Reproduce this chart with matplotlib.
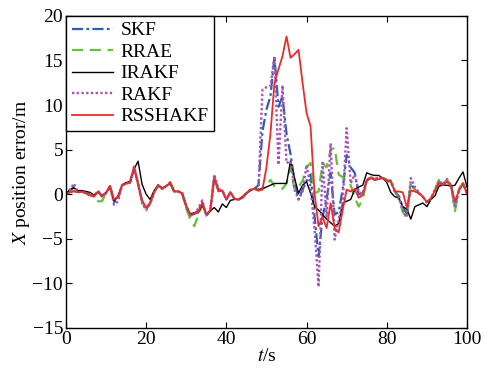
import numpy as np
import matplotlib
matplotlib.use("Agg")
import matplotlib.pyplot as plt

plt.rcParams["font.family"] = ["Liberation Serif", "DejaVu Serif"]
plt.rcParams["mathtext.fontset"] = "stix"

# ----------------------------
# Data (1 s sampling)
# ----------------------------
t = np.arange(0, 101)

rsshakf = [
    0.0, 0.2, 0.3, 0.2, 0.3, 0.1, -0.1, -0.3, 0.3, -0.2,
    0.1, 0.9, -0.6, -0.3, 1.0, 1.2, 1.3, 3.0, 1.2, -0.7,
    -1.5, -1.0, 0.2, 1.0, 0.6, 0.9, 1.3, 0.3, 0.3, 0.1,
    -1.4, -2.3, -2.2, -2.0, -1.0, -2.3, -1.8, 1.8, 0.3, 0.4,
    -0.6, 0.2, -0.5, -0.6, -0.4, 0.1, 0.5, 0.6, 0.4, 0.5,
    3.0, 6.8, 12.5, 14.0, 15.5, 17.7, 15.3, 15.7, 16.2, 12.5,
    9.1, 7.6, 0.0, -3.6, -2.6, -3.8, -1.0, -3.8, -4.3, -1.8,
    0.5, 0.3, 0.6, -0.4, -0.1, 1.6, 1.8, 1.6, 1.7, 1.8,
    1.5, 1.4, 0.3, 0.3, 0.2, -1.5, 0.4, 0.3, 0.1, -0.3,
    -0.9, -0.5, 0.4, 1.2, 1.0, 1.4, 0.9, -0.8, 0.4, 1.2,
    0.1,
]

irakf = [
    0.0, 0.5, 0.7, 0.4, 0.4, 0.3, 0.2, -0.1, 0.2, -0.2,
    0.2, 0.8, -0.8, -0.2, 1.0, 1.3, 1.4, 2.8, 3.7, 1.1,
    0.0, -0.6, 0.4, 1.0, 0.7, 0.9, 1.2, 0.3, 0.3, 0.1,
    -1.3, -2.2, -2.1, -2.1, -1.2, -2.2, -1.9, -1.5, -2.0, -1.1,
    -1.5, -0.7, -0.6, -0.6, -0.3, 0.1, 0.4, 0.6, 0.5, 0.6,
    0.8, 1.0, 1.2, 1.2, 1.2, 1.2, 3.7, 1.8, 0.1, 1.0,
    1.4, 0.1, -1.4, -1.8, -2.3, -2.8, -3.2, -3.6, -3.3, -1.0,
    -0.8, -0.6, 0.5, 0.8, 1.0, 2.4, 2.2, 2.1, 2.1, 1.8,
    1.3, 0.2, -0.3, -0.4, -1.4, -1.7, -2.8, -1.4, -1.2, -1.0,
    -1.4, -0.6, -0.2, 0.9, 1.0, 1.0, 0.9, 1.0, 1.8, 2.5,
    0.8,
]

rrae = [
    0.0, 0.3, 0.4, 0.2, 0.3, 0.1, -0.1, -0.3, -0.8, -0.8,
    0.1, 0.9, -0.7, -0.3, 1.0, 1.2, 1.3, 2.9, 1.1, -0.8,
    -1.6, -1.0, 0.2, 1.0, 0.6, 0.9, 1.3, 0.3, 0.3, 0.1,
    -1.6, -2.8, -3.6, -2.4, -1.2, -2.3, -1.9, 1.9, 0.4, 0.4,
    -0.6, 0.2, -0.5, -0.6, -0.4, 0.1, 0.5, 0.6, 0.4, 0.7,
    1.0, 1.6, 0.9, 0.7, 0.6, 1.2, 3.0, 0.5, 0.8, 1.5,
    3.0, 3.5, 0.1, 0.3, 3.5, 3.0, 5.0, 5.2, 2.2, 1.9,
    1.5, 1.0, -0.4, -1.4, -0.6, 1.6, 1.9, 1.7, 1.8, 1.9,
    1.6, 1.5, 0.4, -0.6, -2.0, -2.7, 1.2, 0.4, 0.1, -0.3,
    -0.9, -0.5, 0.5, 1.6, 1.2, 1.6, 1.0, -1.9, 0.6, 1.2,
    0.1,
]

rakf = [
    0.0, 0.5, 1.2, 0.2, 0.3, 0.1, -0.1, -0.2, 0.4, -0.3,
    0.1, 0.9, -1.2, -0.8, 1.0, 1.2, 1.3, 3.1, 1.1, -1.0,
    -1.8, -1.1, 0.2, 1.0, 0.6, 0.9, 1.3, 0.3, 0.3, 0.1,
    -1.4, -2.4, -2.3, -1.6, -0.7, -2.4, -1.9, 2.2, 0.6, 0.4,
    -0.6, 0.2, -0.5, -0.6, -0.4, 0.1, 0.5, 0.6, 0.5, 11.7,
    12.0, 12.1, 15.5, 3.3, 12.2, 3.5, 3.7, 0.5, -0.6, 0.3,
    3.3, 0.8, -4.0, -10.4, 3.5, -2.5, 5.7, -5.1, -2.8, -1.0,
    7.4, 1.2, 2.2, 0.3, 0.0, 1.6, 1.9, 1.7, 1.9, 1.8,
    1.6, 1.5, 0.4, -0.4, -1.8, -2.6, 1.8, 0.8, 0.2, -0.3,
    -0.9, -0.5, 0.5, 1.5, 1.1, 1.7, 1.0, -1.6, 0.5, 1.2,
    0.1,
]

skf = [
    0.0, 0.4, 0.8, 0.2, 0.3, 0.1, -0.1, -0.2, 0.3, -0.2,
    0.1, 0.9, -0.9, -0.5, 1.0, 1.2, 1.3, 3.0, 1.1, -0.9,
    -1.7, -1.0, 0.2, 1.0, 0.6, 0.9, 1.3, 0.3, 0.3, 0.1,
    -1.4, -2.4, -2.2, -1.8, -0.9, -2.4, -1.9, 2.0, 0.5, 0.4,
    -0.6, 0.2, -0.5, -0.6, -0.4, 0.1, 0.5, 0.6, 1.0, 7.0,
    9.5, 11.0, 15.4, 9.8, 11.0, 6.8, 4.5, 1.5, -0.6, 0.5,
    1.5, 2.2, -2.5, -7.0, -2.5, -0.5, 2.4, -2.3, -2.0, 0.5,
    4.4, 3.0, 2.4, 0.0, 0.0, 1.5, 1.8, 1.6, 1.8, 1.8,
    1.5, 1.4, 0.3, -0.2, -1.5, -2.2, 1.2, 0.5, 0.1, -0.3,
    -0.9, -0.5, 0.4, 1.4, 1.1, 1.5, 1.0, -1.3, 0.5, 1.2,
    0.1,
]

# ----------------------------
# Plot
# ----------------------------
fig = plt.figure(figsize=(4.88, 3.70), dpi=100)
ax = fig.add_axes([0.135, 0.114, 0.822, 0.843])

ax.plot(t, skf, color="#2b5fb0", lw=1.6, ls=(0, (5, 1.5, 1.2, 1.5)), label="SKF")
ax.plot(t, rrae, color="#66c03c", lw=1.6, ls=(0, (5, 3)), label="RRAE")
ax.plot(t, irakf, color="black", lw=1.0, label="IRAKF")
ax.plot(t, rakf, color="#a455b6", lw=1.7, ls=(0, (1, 1)), label="RAKF")
ax.plot(t, rsshakf, color="#ee2a2a", lw=1.3, label="RSSHAKF")

ax.set_xlim(0, 100)
ax.set_ylim(-15, 20)
ax.set_xticks(np.arange(0, 101, 20))
ax.set_yticks(np.arange(-15, 21, 5))
ax.tick_params(direction="in", top=True, right=True, length=4, labelsize=14, pad=2)
for s in ax.spines.values():
    s.set_linewidth(1.0)

ax.set_xlabel(r"$t$/s", fontsize=14, labelpad=0)
ax.set_ylabel(r"$X$ position error/m", fontsize=14, labelpad=0)

leg = ax.legend(loc="upper left", bbox_to_anchor=(0, 1), borderaxespad=0,
                fontsize=14, handlelength=2.1, handletextpad=0.4,
                labelspacing=0.2, borderpad=0.3, fancybox=False,
                framealpha=1)
leg.get_frame().set_edgecolor("black")
leg.get_frame().set_linewidth(1.0)

fig.savefig("out.png", dpi=100)
